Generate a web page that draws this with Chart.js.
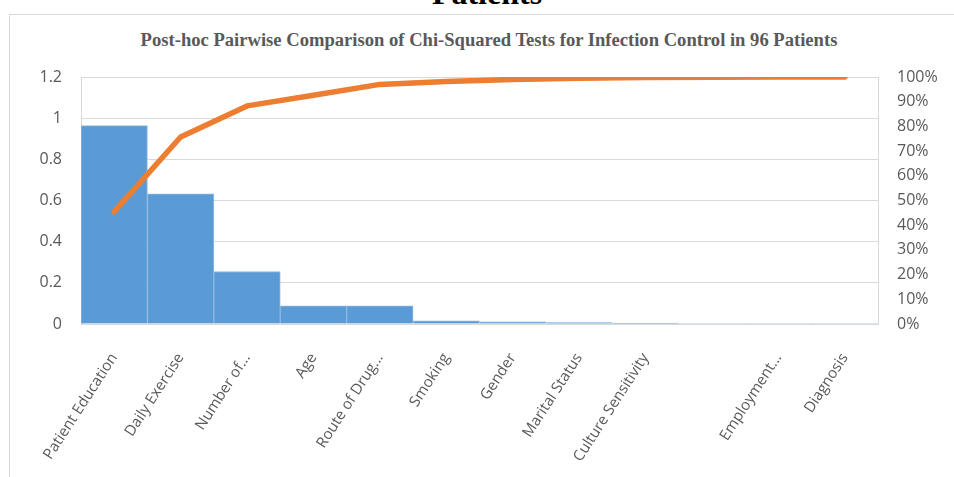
<!DOCTYPE html>
<html>
<head>
<meta charset="utf-8">
<script src="https://cdn.jsdelivr.net/npm/chart.js@4.4.0/dist/chart.umd.min.js"></script>
<style>
  html, body { margin: 0; padding: 0; background: #fff; }
  body { width: 954px; height: 477px; position: relative; overflow: hidden; }
  #head {
    position: absolute; left: 10px; width: 954px; top: -25px; text-align: center;
    font: bold 32px "Liberation Serif", "DejaVu Serif", serif; color: #000;
  }
  #box {
    position: absolute; left: 9px; top: 14px; width: 960px; height: 480px;
    border: 1px solid #d9d9d9; box-sizing: border-box;
  }
  #title {
    position: absolute; left: 0; width: 978px; top: 29px; text-align: center;
    font: bold 18.6px "Liberation Serif", "DejaVu Serif", serif; color: #595959;
  }
  #c { position: absolute; left: 0; top: 0; }
</style>
</head>
<body>
<div id="head">Patients</div>
<div id="box"></div>
<div id="title">Post-hoc Pairwise Comparison of Chi-Squared Tests for Infection Control in 96 Patients</div>
<canvas id="c" width="954" height="477"></canvas>
<script>
const categories = [
  "Patient Education", "Daily Exercise", "Number of...", "Age", "Route of Drug...",
  "Smoking", "Gender", "Marital Status", "Culture Sensitivity", "", "Employment...", "Diagnosis",
];
const barValues = [0.964, 0.632, 0.255, 0.088, 0.088, 0.015, 0.010, 0.007, 0.005, 0, 0, 0];
const cumulativePct = [45.5, 75.7, 88.3, 92.6, 97.0, 98.2, 99.0, 99.5, 99.8, 99.9, 100, 100];
const leftTicks = ["0", "0.2", "0.4", "0.6", "0.8", "1", "1.2"];
const rightTicks = ["0%", "10%", "20%", "30%", "40%", "50%", "60%", "70%", "80%", "90%", "100%"];

const BLUE = "#5b9bd5";
const ORANGE = "#ed7d31";
const MUTED = "#595959";
const GRID = "#d9d9d9";
const tickFont = { family: "'Open Sans', 'Liberation Sans', sans-serif", size: 16 };

new Chart(document.getElementById("c").getContext("2d"), {
  data: {
    labels: categories,
    datasets: [
      {
        type: "line",
        data: cumulativePct,
        yAxisID: "y1",
        borderColor: ORANGE,
        borderWidth: 5.5,
        borderCapStyle: "round",
        borderJoinStyle: "round",
        pointRadius: 0,
        tension: 0,
        order: 0,
      },
      {
        type: "bar",
        data: barValues,
        yAxisID: "y",
        backgroundColor: BLUE,
        borderColor: "#8db8e4",
        borderWidth: (ctx) => (ctx.raw > 0 ? 1 : 0),
        categoryPercentage: 1,
        barPercentage: 1,
        order: 1,
      },
    ],
  },
  options: {
    responsive: false,
    animation: false,
    layout: { padding: { top: 77, left: 0, right: 0, bottom: 0 } },
    plugins: { legend: { display: false }, tooltip: { enabled: false } },
    scales: {
      x: {
        afterFit: (s) => { s.height = 153; },
        grid: { display: false },
        border: { display: true, color: GRID },
        ticks: {
          color: MUTED, font: { ...tickFont, size: 15 }, autoSkip: false,
          maxRotation: 57, minRotation: 57, padding: 18,
        },
      },
      y: {
        position: "left",
        min: 0, max: 1.2,
        afterFit: (s) => { s.width = 81; },
        grid: { color: GRID, drawTicks: false },
        border: { display: true, color: GRID },
        ticks: {
          stepSize: 0.2, color: MUTED, font: tickFont, padding: 19,
          callback: (v, i) => leftTicks[i],
        },
      },
      y1: {
        position: "right",
        min: 0, max: 100,
        afterFit: (s) => { s.width = 76; },
        grid: { display: false },
        border: { display: true, color: GRID },
        ticks: {
          stepSize: 10, color: MUTED, font: tickFont, padding: 11,
          callback: (v, i) => rightTicks[i],
        },
      },
    },
  },
});
</script>
</body>
</html>
